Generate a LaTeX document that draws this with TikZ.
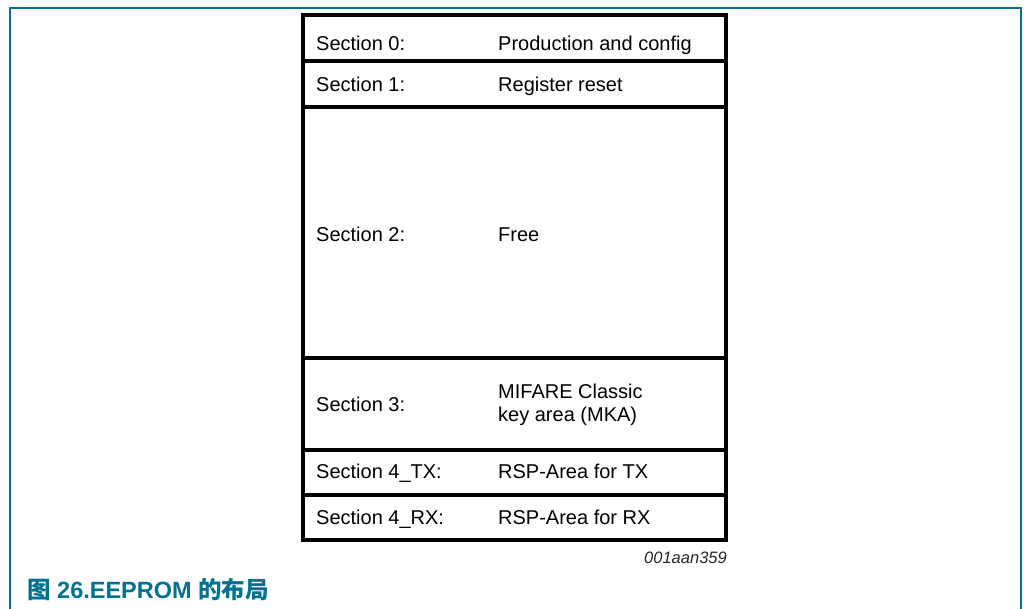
\documentclass[tikz,border=0pt]{standalone}
\usepackage{fontspec}
\setmainfont{Liberation Sans}
\newfontfamily\cjk{Noto Sans CJK SC}
\definecolor{frameteal}{RGB}{0,114,141}
\tikzset{
  cell/.style={draw=black, line width=3.2pt},
  lbl/.style={anchor=base west, inner sep=0pt, font=\fontsize{20}{22}\selectfont},
}
\begin{document}
\begin{tikzpicture}[x=1pt,y=-1pt]
\useasboundingbox[fill=white] (0,0) rectangle (1024,608);
% frame
\coordinate (f1) at (10,610);
\coordinate (f2) at (10,8);
\coordinate (f3) at (1021,8);
\coordinate (f4) at (1021,610);
\draw[frameteal, line width=2pt] (f1) -- (f2) -- (f3) -- (f4);
% table
\draw[cell] (303,15) rectangle (726,540);
\draw[cell] (303,61) -- (726,61);
\draw[cell] (303,107) -- (726,107);
\draw[cell] (303,358) -- (726,358);
\draw[cell] (303,450) -- (726,450);
\draw[cell] (303,495) -- (726,495);
% labels
\node[lbl] (s0) at (316,50) {Section 0:};
\node[lbl] (v0) at (498,50) {Production and config};
\node[lbl] (s1) at (316,91) {Section 1:};
\node[lbl] (v1) at (498,91) {Register reset};
\node[lbl] (s2) at (316,241) {Section 2:};
\node[lbl] (v2) at (498,241) {Free};
\node[lbl] (s3) at (316,411) {Section 3:};
\node[lbl] (v3a) at (498,398) {MIFARE Classic};
\node[lbl] (v3b) at (498,421) {key area (MKA)};
\node[lbl] (s4) at (316,478) {Section 4\_TX:};
\node[lbl] (v4) at (498,478) {RSP-Area for TX};
\node[lbl] (s5) at (316,524) {Section 4\_RX:};
\node[lbl] (v5) at (498,524) {RSP-Area for RX};
% id
\node[anchor=base east, inner sep=0pt, font=\fontsize{16.5}{18}\selectfont\itshape, text=black!85] (id) at (727,563) {001aan359};
% caption
\node[anchor=base west, inner sep=0pt, text=frameteal, font=\fontsize{23.5}{25}\selectfont\bfseries] (cap) at (27,598) {{\cjk 图} 26.EEPROM {\cjk 的布局}};
\end{tikzpicture}
\end{document}
